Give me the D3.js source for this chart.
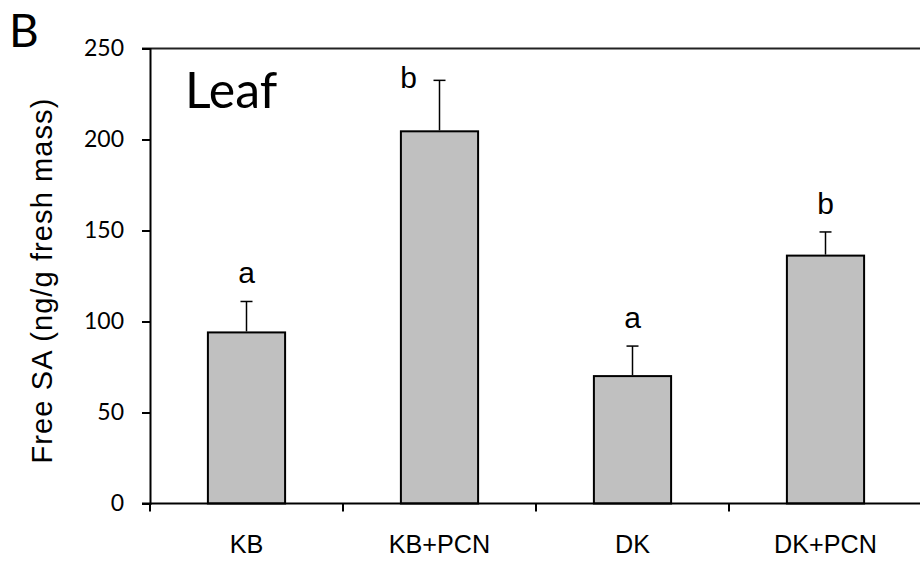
<!DOCTYPE html>
<html>
<head>
<meta charset="utf-8">
<script src="https://cdn.jsdelivr.net/npm/d3@7"></script>
<style>
  body { margin: 0; background: #fff; }
  svg { display: block; }
</style>
</head>
<body>
<svg id="chart" width="920" height="561"></svg>
<script>
// data
var groups = ['KB', 'KB+PCN', 'DK', 'DK+PCN'];
var means = [94, 204.5, 70, 136.2];
var errors = [17, 28, 16.5, 13];
var letters = ['a', 'b', 'a', 'b'];
var yTicks = [0, 50, 100, 150, 200, 250];

var margin = {top: 48.5, right: -2, bottom: 57.5, left: 150};
var width = 920 - margin.left - margin.right;
var height = 561 - margin.top - margin.bottom;

var svg = d3.select('#chart');
var g = svg.append('g')
    .attr('transform', 'translate(' + margin.left + ',' + margin.top + ')');

var x = d3.scaleBand().domain(groups).range([0, width]).padding(0);
var y = d3.scaleLinear().domain([0, 250]).range([height, 0]);
var barW = x.bandwidth() * 0.4;

// top frame line
g.append('line')
  .attr('x1', -8).attr('x2', 920 - margin.left)
  .attr('y1', y(250)).attr('y2', y(250))
  .attr('stroke', '#222').attr('stroke-width', 2);

// bars
g.selectAll('.bar')
  .data(groups)
  .enter()
  .append('rect')
  .attr('class', 'bar')
  .attr('x', d => x(d) + (x.bandwidth() - barW) / 2)
  .attr('y', (d, i) => y(means[i]))
  .attr('width', barW)
  .attr('height', (d, i) => height - y(means[i]))
  .attr('fill', '#c0c0c0')
  .attr('stroke', '#000')
  .attr('stroke-width', 2);

// error bars (upper only)
var cx = d => x(d) + x.bandwidth() / 2;
g.selectAll('.err')
  .data(groups)
  .enter()
  .append('line')
  .attr('x1', cx).attr('x2', cx)
  .attr('y1', (d, i) => y(means[i]) - 1)
  .attr('y2', (d, i) => y(means[i] + errors[i]))
  .attr('stroke', '#000').attr('stroke-width', 1.5);

g.selectAll('.cap')
  .data(groups)
  .enter()
  .append('line')
  .attr('x1', d => cx(d) - 6).attr('x2', d => cx(d) + 6)
  .attr('y1', (d, i) => y(means[i] + errors[i]))
  .attr('y2', (d, i) => y(means[i] + errors[i]))
  .attr('stroke', '#000').attr('stroke-width', 1.5);

// significance letters; moved to the left when there is no room above
g.selectAll('.letter')
  .data(groups)
  .enter()
  .append('text')
  .attr('x', (d, i) => {
    var top = y(means[i] + errors[i]) - 18;
    return top < 30 ? cx(d) - 31 : cx(d);
  })
  .attr('y', (d, i) => {
    var top = y(means[i] + errors[i]) - 18;
    return top < 30 ? y(means[i] + errors[i]) + 8 : top;
  })
  .attr('text-anchor', 'middle')
  .attr('font-family', '"Liberation Sans", Arial, sans-serif')
  .attr('font-size', 30)
  .attr('fill', '#000')
  .text((d, i) => letters[i]);

// y axis
var yAxis = g.append('g')
  .call(d3.axisLeft(y).tickValues(yTicks).tickSize(8).tickPadding(18));
yAxis.select('.domain').attr('stroke', '#000').attr('stroke-width', 2);
yAxis.selectAll('.tick line').attr('stroke', '#000').attr('stroke-width', 2);
yAxis.selectAll('text')
  .attr('font-family', 'Lato, "Open Sans", sans-serif')
  .attr('font-size', 23)
  .attr('fill', '#000');

// x axis: baseline, boundary ticks, centred labels
g.append('line')
  .attr('x1', -8).attr('x2', 920 - margin.left)
  .attr('y1', height).attr('y2', height)
  .attr('stroke', '#000').attr('stroke-width', 2);

g.selectAll('.xtick')
  .data(groups)
  .enter()
  .append('line')
  .attr('x1', d => x(d)).attr('x2', d => x(d))
  .attr('y1', height).attr('y2', height + 8)
  .attr('stroke', '#000').attr('stroke-width', 2);

g.selectAll('.xlabel')
  .data(groups)
  .enter()
  .append('text')
  .attr('x', cx)
  .attr('y', height + 49)
  .attr('text-anchor', 'middle')
  .attr('font-family', '"Liberation Sans", Arial, sans-serif')
  .attr('font-size', 25.2)
  .attr('fill', '#000')
  .text(d => d);

// axis title
svg.append('text')
  .attr('transform', 'translate(52,280.5) rotate(-90)')
  .attr('text-anchor', 'middle')
  .attr('font-family', '"Liberation Sans", Arial, sans-serif')
  .attr('font-size', 29)
  .attr('letter-spacing', 1.1)
  .attr('fill', '#000')
  .text('Free SA  (ng/g fresh mass)');

// panel letter and tissue label
svg.append('text')
  .attr('x', 9).attr('y', 46.7)
  .attr('font-family', 'Lato, "Open Sans", sans-serif')
  .attr('font-size', 46)
  .attr('fill', '#000')
  .text('B');

svg.append('text')
  .attr('x', 185).attr('y', 108.3)
  .attr('font-family', 'Lato, "Open Sans", sans-serif')
  .attr('font-size', 50)
  .attr('fill', '#000')
  .text('Leaf');
</script>
</body>
</html>
